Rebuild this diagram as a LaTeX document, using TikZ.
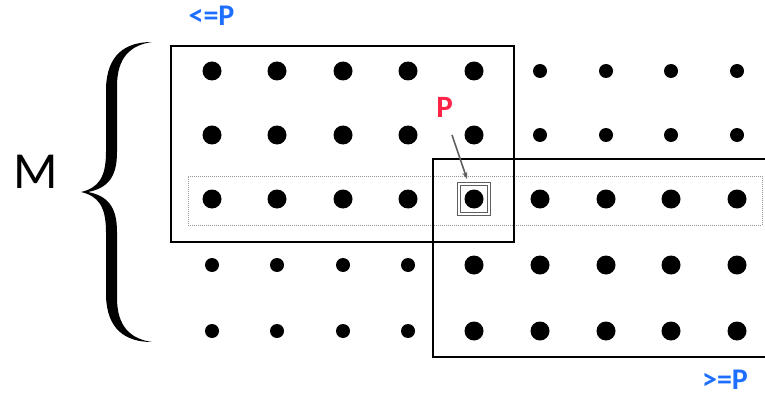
\documentclass[tikz,border=0pt]{standalone}
\usepackage{fontspec}
\setmainfont{Carlito}
\usetikzlibrary{arrows.meta}
\definecolor{lblblue}{RGB}{30,110,255}
\definecolor{lblred}{RGB}{255,35,70}
\definecolor{rowgray}{RGB}{150,150,150}
\definecolor{arrowgray}{RGB}{95,95,95}
\begin{document}
\begin{tikzpicture}[x=1pt,y=-1pt,
  bigdot/.style={circle,fill=black,inner sep=0pt,minimum size=19pt},
  smalldot/.style={circle,fill=black,inner sep=0pt,minimum size=14pt},
  regionbox/.style={draw=black,line width=2.2pt,inner sep=0pt},
  rowbox/.style={draw=rowgray,line width=1pt,densely dotted,inner sep=0pt},
  pivotbox/.style={draw=arrowgray,double=white,double distance=2.5pt,line width=0.9pt,inner sep=0pt,minimum size=30pt},
  bluelbl/.style={text=lblblue,font=\fontsize{30}{30}\selectfont\bfseries,inner sep=0pt,text depth=0pt},
  redlbl/.style={text=lblred,font=\fontsize{31}{31}\selectfont\bfseries,inner sep=0pt,text depth=0pt}]
\useasboundingbox (0,0) rectangle (765,393);

% grid of points: large inside the two regions, small elsewhere
\foreach \c/\x in {1/212,2/277,3/343,4/408,5/474,6/540,7/606,8/671,9/737}{
  \foreach \r/\y in {1/71,2/135,3/199,4/265,5/331}{
    \pgfmathtruncatemacro\isbig{((\r<4)&&(\c<6))||((\r>2)&&(\c>4))}
    \ifnum\isbig=1
      \node[bigdot] (d\r\c) at (\x,\y) {};
    \else
      \node[smalldot] (d\r\c) at (\x,\y) {};
    \fi
  }
}

% the row of P
\node[rowbox,minimum width=574pt,minimum height=49pt] (row) at (475,200.5) {};
% region <= P and region >= P
\node[regionbox,minimum width=343pt,minimum height=196pt] (lebox) at (342.5,144) {};
\node[regionbox,minimum width=347pt,minimum height=198pt] (gebox) at (606.5,258) {};
% the pivot P
\node[pivotbox] (pbox) at (d35) {};

% labels
\node[bluelbl] (le) at (211.5,16) {<=P};
\node[bluelbl] (ge) at (725,380) {>=P};
\node[redlbl] (plbl) at (444.5,107.5) {P};
\node[inner sep=0pt,font=\fontsize{52}{52}\selectfont] (m) at (36,172) {M};

% pointer to the pivot
\coordinate (ptail) at (452,135);
\coordinate (phead) at (467,179);
\draw[arrowgray,line width=1.6pt,-{Stealth[length=7pt,width=5pt]}] (ptail) -- (phead);

% curly brace spanning the rows
\fill[black]
  (152,42) .. controls (125,42) and (107,55) .. (106,88)
  -- (106,152) .. controls (106,178) and (98,188) .. (81,192)
  .. controls (98,196) and (106,206) .. (106,232)
  -- (106,296) .. controls (107,329) and (125,342) .. (152,342)
  .. controls (131,339) and (117,327) .. (117,298)
  -- (117,232) .. controls (117,207) and (108,196) .. (88,192)
  .. controls (108,188) and (117,177) .. (117,152)
  -- (117,86) .. controls (117,57) and (131,45) .. (152,42) -- cycle;
\end{tikzpicture}
\end{document}
